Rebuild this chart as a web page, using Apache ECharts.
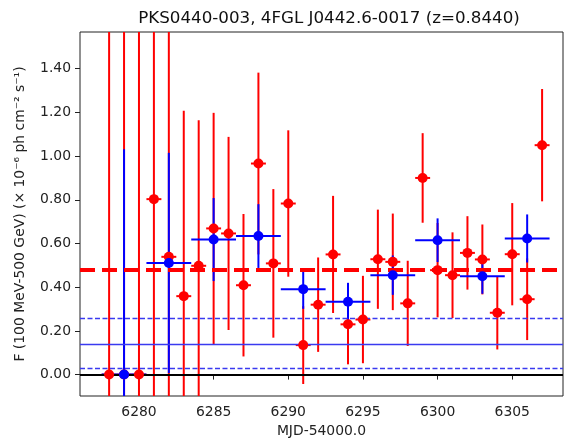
<!DOCTYPE html>
<html>
<head>
<meta charset="utf-8">
<script src="https://cdn.jsdelivr.net/npm/echarts@6/dist/echarts.min.js"></script>
<style>
  html, body { margin: 0; padding: 0; background: #fff; }
  #lc { width: 564px; height: 438px; }
</style>
</head>
<body>
<div id="lc"></div>
<script>
// daily bins (red)
const redDays = [6278, 6279, 6280, 6281, 6282, 6283, 6284, 6285, 6286, 6287,
  6288, 6289, 6290, 6291, 6292, 6293, 6294, 6295, 6296, 6297,
  6298, 6299, 6300, 6301, 6302, 6303, 6304, 6305, 6306, 6307]
const redFlux = [0, 0, 0, 0.803, 0.539, 0.359, 0.498, 0.669, 0.646, 0.409,
  0.966, 0.509, 0.783, 0.135, 0.32, 0.55, 0.23, 0.252, 0.528, 0.516,
  0.326, 0.9, 0.478, 0.455, 0.557, 0.527, 0.283, 0.551, 0.345, 1.05]
const redErr = [2.0, 2.0, 2.0, 1.0, 1.1, 0.848, 0.666, 0.529, 0.442, 0.326,
  0.416, 0.34, 0.335, 0.178, 0.216, 0.268, 0.183, 0.2, 0.227, 0.221,
  0.195, 0.205, 0.216, 0.196, 0.168, 0.16, 0.168, 0.234, 0.187, 0.257]
const redHalfWidth = 0.5

// 3-day bins (blue)
const blueDays = [6279, 6282, 6285, 6288, 6291, 6294, 6297, 6300, 6303, 6306]
const blueFlux = [0, 0.511, 0.618, 0.634, 0.391, 0.333, 0.455, 0.615, 0.45, 0.623]
const blueErr = [1.031, 0.504, 0.19, 0.146, 0.09, 0.087, 0.09, 0.1, 0.08, 0.11]
const blueHalfWidth = 1.5

// horizontal levels
const redMean = 0.483
const blueMean = 0.143
const blueLow = 0.031
const blueHigh = 0.257

const xTicks = [6280, 6285, 6290, 6295, 6300, 6305]
const yTicks = [0, 0.2, 0.4, 0.6, 0.8, 1.0, 1.2, 1.4]

const font = 'DejaVu Sans'

function errBars (halfWidth, color) {
  return function (params, api) {
    let x = api.value(0)
    let y = api.value(1)
    let e = api.value(2)
    let top = api.coord([x, y + e])
    let bot = api.coord([x, y - e])
    let l = api.coord([x - halfWidth, y])
    let r = api.coord([x + halfWidth, y])
    return {
      type: 'group',
      children: [
        { type: 'line', shape: { x1: top[0], y1: top[1], x2: bot[0], y2: bot[1] }, style: { stroke: color, lineWidth: 2 } },
        { type: 'line', shape: { x1: l[0], y1: l[1], x2: r[0], y2: r[1] }, style: { stroke: color, lineWidth: 2 } }
      ]
    }
  }
}

let chart = echarts.init(document.getElementById('lc'), null, { renderer: 'canvas' })
chart.setOption({
  animation: false,
  title: {
    text: 'PKS0440-003, 4FGL J0442.6-0017 (z=0.8440)',
    left: 324,
    top: 5,
    textAlign: 'center',
    textStyle: { fontFamily: font, fontSize: 16.7, fontWeight: 'normal', color: '#111' }
  },
  grid: {
    left: 80, right: 1, top: 32, bottom: 42,
    outerBoundsMode: 'none',
    show: true, borderColor: '#222', borderWidth: 1
  },
  xAxis: {
    type: 'value',
    min: 6276.05,
    max: 6308.4,
    name: 'MJD-54000.0',
    nameLocation: 'middle',
    nameGap: 28,
    nameTextStyle: { fontFamily: font, fontSize: 13.9, color: '#222' },
    axisLine: { show: false },
    splitLine: { show: false },
    axisTick: { show: true, length: 5, lineStyle: { color: '#222' }, customValues: xTicks },
    axisLabel: {
      fontFamily: font, fontSize: 13.9, color: '#222', margin: 9, customValues: xTicks,
      formatter: v => String(v)
    }
  },
  yAxis: {
    type: 'value',
    min: -0.098,
    max: 1.568,
    name: 'F (100 MeV-500 GeV) (× 10⁻⁶ ph cm⁻² s⁻¹)',
    nameLocation: 'middle',
    nameRotate: 90,
    nameGap: 53,
    nameTextStyle: { fontFamily: font, fontSize: 13.9, color: '#222' },
    axisLine: { show: false },
    splitLine: { show: false },
    axisTick: { show: true, length: 5, lineStyle: { color: '#222' }, customValues: yTicks },
    axisLabel: {
      fontFamily: font, fontSize: 13.9, color: '#222', margin: 9, customValues: yTicks,
      formatter: v => v.toFixed(2)
    }
  },
  series: [
    {
      name: 'levels',
      type: 'line',
      data: [],
      z: 1,
      markLine: {
        silent: true,
        symbol: 'none',
        label: { show: false },
        animation: false,
        data: [
          { yAxis: blueHigh, lineStyle: { color: '#3a3af0', width: 1.3, type: [5, 2.5] } },
          { yAxis: blueMean, lineStyle: { color: '#3a3af0', width: 1.3, type: 'solid' } },
          { yAxis: blueLow, lineStyle: { color: '#3a3af0', width: 1.3, type: [5, 2.5] } },
          { yAxis: redMean, lineStyle: { color: '#ff0000', width: 4, type: [15, 7] } }
        ]
      }
    },
    {
      name: 'daily err',
      type: 'custom',
      clip: true,
      z: 2,
      renderItem: errBars(redHalfWidth, '#ff0000'),
      data: redDays.map((d, i) => [d, redFlux[i], redErr[i]])
    },
    {
      name: '3day err',
      type: 'custom',
      clip: true,
      z: 3,
      renderItem: errBars(blueHalfWidth, '#0000ff'),
      data: blueDays.map((d, i) => [d, blueFlux[i], blueErr[i]])
    },
    {
      name: 'zero',
      type: 'line',
      data: [],
      z: 4,
      markLine: {
        silent: true,
        symbol: 'none',
        label: { show: false },
        animation: false,
        data: [{ yAxis: 0, lineStyle: { color: '#000', width: 2, type: 'solid' } }]
      }
    },
    {
      name: 'daily',
      type: 'scatter',
      z: 5,
      symbol: 'circle',
      symbolSize: 10,
      itemStyle: { color: '#ff0000', opacity: 1 },
      data: redDays.map((d, i) => [d, redFlux[i]])
    },
    {
      name: '3day',
      type: 'scatter',
      z: 6,
      symbol: 'circle',
      symbolSize: 10,
      itemStyle: { color: '#0000ff', opacity: 1 },
      data: blueDays.map((d, i) => [d, blueFlux[i]])
    }
  ]
})
</script>
</body>
</html>
